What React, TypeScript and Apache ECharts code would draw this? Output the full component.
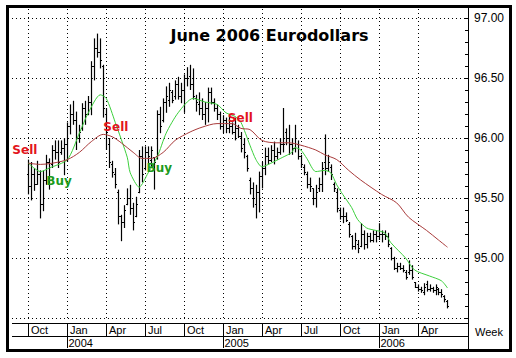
import React, { useEffect, useRef } from 'react';
import * as echarts from 'echarts';

// ---- data (weekly bars, first bar = week ending Oct 3 2003) ----
const START = Date.UTC(2003, 9, 3);
const DAY = 86400000;
const weekDate = (w: number) => START + w * 7 * DAY;

const highs = [
  95.82, 95.80, 95.75, 95.81, 95.73, 95.73, 95.86, 95.83, 95.94, 95.98,
  95.98, 95.98, 96.00, 96.13, 96.28, 96.31, 96.22, 96.11, 96.29, 96.31,
  96.35, 96.64, 96.83, 96.87, 96.83, 96.61, 96.25, 96.00, 95.81, 95.75,
  95.57, 95.36, 95.44, 95.58, 95.61, 95.46, 95.51, 95.90, 95.93, 95.93,
  95.93, 95.93, 95.84, 96.23, 96.26, 96.33, 96.43, 96.46, 96.40, 96.48,
  96.51, 96.46, 96.53, 96.59, 96.61, 96.58, 96.36, 96.38, 96.33, 96.30,
  96.42, 96.42, 96.33, 96.28, 96.22, 96.19, 96.17, 96.19, 96.13, 96.17,
  96.11, 96.05, 96.00, 95.86, 95.67, 95.63, 95.61, 95.72, 95.80, 95.92,
  95.92, 95.94, 95.97, 95.92, 96.00, 96.25, 96.08, 96.11, 96.00, 96.11,
  95.98, 95.86, 95.78, 95.72, 95.67, 95.58, 95.61, 95.67, 95.80, 96.03,
  95.86, 95.78, 95.63, 95.58, 95.42, 95.42, 95.38, 95.30, 95.19, 95.21,
  95.15, 95.29, 95.23, 95.21, 95.21, 95.23, 95.23, 95.29, 95.23, 95.23,
  95.21, 95.09, 95.01, 94.96, 94.96, 94.94, 94.90, 94.98, 94.94, 94.80,
  94.78, 94.76, 94.79, 94.81, 94.78, 94.76, 94.78, 94.75, 94.74, 94.69,
  94.65,
];
const lows = [
  95.53, 95.48, 95.56, 95.61, 95.33, 95.39, 95.61, 95.57, 95.75, 95.82,
  95.75, 95.86, 95.69, 95.80, 96.03, 96.11, 95.90, 95.96, 96.06, 96.11,
  96.19, 96.19, 96.48, 96.67, 96.58, 96.17, 95.90, 95.75, 95.67, 95.58,
  95.28, 95.14, 95.25, 95.44, 95.36, 95.23, 95.34, 95.54, 95.63, 95.73,
  95.79, 95.76, 95.57, 95.82, 96.04, 96.13, 96.21, 96.26, 96.29, 96.32,
  96.32, 96.29, 96.21, 96.43, 96.40, 96.32, 96.22, 96.19, 96.15, 96.11,
  96.13, 96.28, 96.22, 96.15, 96.07, 96.04, 96.04, 96.04, 96.03, 95.98,
  96.00, 95.88, 95.83, 95.72, 95.53, 95.42, 95.33, 95.38, 95.58, 95.69,
  95.78, 95.80, 95.78, 95.82, 95.86, 95.88, 95.94, 95.86, 95.86, 95.88,
  95.82, 95.75, 95.69, 95.58, 95.55, 95.44, 95.42, 95.55, 95.55, 95.69,
  95.72, 95.65, 95.55, 95.38, 95.32, 95.29, 95.30, 95.17, 95.07, 95.07,
  95.04, 95.09, 95.07, 95.08, 95.13, 95.13, 95.13, 95.15, 95.13, 95.15,
  95.09, 94.98, 94.90, 94.88, 94.90, 94.88, 94.82, 94.86, 94.82, 94.75,
  94.72, 94.71, 94.69, 94.72, 94.72, 94.71, 94.69, 94.69, 94.67, 94.63,
  94.58,
];
const opens = [
  95.70, 95.60, 95.70, 95.62, 95.70, 95.45, 95.65, 95.80, 95.78, 95.90,
  95.88, 95.88, 95.92, 95.95, 96.10, 96.20, 96.15, 96.00, 96.08, 96.25,
  96.20, 96.30, 96.60, 96.75, 96.72, 96.60, 96.20, 95.95, 95.78, 95.70,
  95.55, 95.35, 95.30, 95.45, 95.50, 95.42, 95.35, 95.55, 95.85, 95.75,
  95.88, 95.82, 95.84, 95.85, 96.20, 96.15, 96.30, 96.32, 96.38, 96.35,
  96.45, 96.35, 96.40, 96.50, 96.52, 96.45, 96.33, 96.28, 96.25, 96.20,
  96.25, 96.38, 96.30, 96.25, 96.20, 96.10, 96.15, 96.08, 96.10, 96.05,
  96.08, 96.02, 95.95, 95.85, 95.65, 95.58, 95.45, 95.55, 95.68, 95.75,
  95.85, 95.82, 95.90, 95.85, 95.88, 95.95, 96.05, 96.00, 95.95, 95.92,
  95.95, 95.85, 95.76, 95.70, 95.62, 95.58, 95.50, 95.58, 95.62, 95.80,
  95.75, 95.76, 95.62, 95.55, 95.40, 95.35, 95.35, 95.28, 95.18, 95.10,
  95.12, 95.10, 95.20, 95.12, 95.18, 95.15, 95.20, 95.18, 95.20, 95.20,
  95.18, 95.08, 95.00, 94.92, 94.93, 94.92, 94.88, 94.88, 94.90, 94.80,
  94.76, 94.74, 94.72, 94.78, 94.74, 94.75, 94.73, 94.74, 94.72, 94.68,
  94.64,
];
const closes = [
  95.60, 95.70, 95.62, 95.70, 95.45, 95.65, 95.80, 95.62, 95.90, 95.88,
  95.80, 95.92, 95.95, 96.10, 96.20, 96.15, 96.00, 96.05, 96.25, 96.20,
  96.30, 96.60, 96.75, 96.72, 96.65, 96.25, 96.05, 95.80, 95.72, 95.62,
  95.35, 95.30, 95.40, 95.50, 95.42, 95.30, 95.45, 95.85, 95.70, 95.88,
  95.85, 95.90, 95.80, 96.20, 96.10, 96.30, 96.35, 96.40, 96.32, 96.45,
  96.35, 96.40, 96.50, 96.50, 96.45, 96.35, 96.30, 96.25, 96.20, 96.25,
  96.38, 96.30, 96.25, 96.20, 96.10, 96.15, 96.08, 96.10, 96.05, 96.08,
  96.02, 95.92, 95.88, 95.75, 95.58, 95.50, 95.55, 95.68, 95.75, 95.85,
  95.82, 95.90, 95.85, 95.88, 95.95, 95.95, 96.00, 95.95, 95.92, 96.00,
  95.85, 95.78, 95.72, 95.62, 95.60, 95.50, 95.55, 95.62, 95.75, 95.75,
  95.80, 95.70, 95.58, 95.42, 95.35, 95.35, 95.32, 95.20, 95.10, 95.15,
  95.08, 95.20, 95.12, 95.18, 95.15, 95.20, 95.18, 95.20, 95.20, 95.18,
  95.12, 95.00, 94.92, 94.93, 94.92, 94.90, 94.84, 94.90, 94.84, 94.76,
  94.74, 94.73, 94.76, 94.74, 94.75, 94.73, 94.76, 94.72, 94.70, 94.66,
  94.60,
];

// short moving average (green), read at sampled weeks
const greenWeeks = [0, 4, 7, 13, 17, 20, 24, 26, 29, 33, 34, 37, 40, 43, 46, 50, 55, 59, 63, 66, 69, 71, 74, 76, 78, 81, 85, 88, 89, 91, 93, 96, 99, 101, 103, 105, 108, 110, 113, 116, 119, 121, 126, 129, 134, 138, 140];
const greenValues = [95.79, 95.72, 95.75, 95.82, 96.04, 96.21, 96.36, 96.33, 96.13, 95.84, 95.71, 95.59, 95.71, 95.84, 96.04, 96.21, 96.33, 96.30, 96.28, 96.21, 96.18, 96.13, 95.94, 95.82, 95.76, 95.79, 95.84, 95.88, 95.92, 95.90, 95.83, 95.72, 95.73, 95.71, 95.61, 95.53, 95.42, 95.32, 95.25, 95.23, 95.21, 95.13, 95.00, 94.90, 94.85, 94.81, 94.75];
// long moving average (red)
const redWeeks = [0, 4, 8, 13, 17, 21, 25, 28, 31, 35, 38, 41, 45, 49, 54, 58, 63, 68, 71, 74, 78, 83, 87, 91, 96, 99, 103, 107, 111, 118, 123, 127, 133, 137, 140];
const redValues = [95.79, 95.78, 95.79, 95.82, 95.88, 95.97, 96.03, 96.01, 95.96, 95.88, 95.83, 95.83, 95.88, 95.98, 96.05, 96.09, 96.12, 96.12, 96.08, 96.07, 95.98, 95.96, 95.96, 95.94, 95.90, 95.86, 95.82, 95.73, 95.65, 95.53, 95.46, 95.34, 95.23, 95.15, 95.09];

// signals
const signalLabels = ['Sell', 'Buy', 'Sell', 'Buy', 'Sell'];
const signalWeeks = [-1.2, 10.2, 29.2, 43.7, 70.8];
const signalPrices = [95.90, 95.64, 96.09, 95.75, 96.17];

// x axis quarters
const quarterStarts = [
  Date.UTC(2003, 9, 1), Date.UTC(2004, 0, 1), Date.UTC(2004, 3, 1), Date.UTC(2004, 6, 1),
  Date.UTC(2004, 9, 1), Date.UTC(2005, 0, 1), Date.UTC(2005, 3, 1), Date.UTC(2005, 6, 1),
  Date.UTC(2005, 9, 1), Date.UTC(2006, 0, 1), Date.UTC(2006, 3, 1),
];
const quarterMonths = ['Oct', 'Jan', 'Apr', 'Jul', 'Oct', 'Jan', 'Apr', 'Jul', 'Oct', 'Jan', 'Apr'];
const quarterYears = ['', '2004', '', '', '', '2005', '', '', '', '2006', ''];

const X_MIN = Date.UTC(2003, 7, 25, 12);
const X_MAX = Date.UTC(2006, 6, 27);

const SANS = '"Liberation Sans", Arial, sans-serif';
const BOLD = '"DejaVu Sans", Verdana, sans-serif';

export default function App() {
  const ref = useRef<HTMLDivElement>(null);
  useEffect(() => {
    const chart = echarts.init(ref.current!, null, { renderer: 'svg' });
    const ohlc = highs.map((h, i) => [weekDate(i), opens[i], h, lows[i], closes[i]]);
    const green = greenWeeks.map((w, i) => [weekDate(w), greenValues[i]]);
    const red = redWeeks.map((w, i) => [weekDate(w), redValues[i]]);
    const signals = signalWeeks.map((w, i) => [weekDate(w), signalPrices[i]]);

    const option: any = {
      animation: false,
      backgroundColor: '#ffffff',
      grid: { left: 12, right: 48, top: 18, bottom: 40 },
      xAxis: {
        type: 'time', min: X_MIN, max: X_MAX, show: false,
      },
      yAxis: {
        type: 'value', position: 'right', min: 94.5, max: 97, interval: 0.5,
        axisLine: { show: false },
        axisTick: { show: true, inside: true, length: 4, lineStyle: { color: '#000' } },
        minorTick: { show: true, splitNumber: 5, length: 3, lineStyle: { color: '#000' } },
        splitLine: { show: true, lineStyle: { color: '#000', width: 1, type: [1, 3] } },
        axisLabel: {
          showMinLabel: false, color: '#000', fontFamily: SANS, fontSize: 12, margin: 6,
          formatter: (v: number) => v.toFixed(2),
        },
      },
      series: [
        {
          type: 'custom', z: 1, clip: false, silent: true,
          data: quarterStarts.map((t) => [t, 95]),
          encode: { x: 0, y: 1 },
          renderItem: (params: any, api: any) => {
            const i = params.dataIndex;
            const cs = params.coordSys;
            const x = Math.round(api.coord([api.value(0), 95])[0]) + 0.5;
            const top = cs.y;
            const bottom = cs.y + cs.height;
            const children: any[] = [
              { type: 'line', shape: { x1: x, y1: top - 9, x2: x, y2: bottom }, style: { stroke: '#000', lineWidth: 1, lineDash: [1, 3] } },
              { type: 'line', shape: { x1: x, y1: bottom + 5, x2: x, y2: quarterYears[i] ? bottom + 30 : bottom + 18 }, style: { stroke: '#000', lineWidth: 1 } },
              { type: 'text', x: x + 2.5, y: bottom + 12, style: { text: quarterMonths[i], fill: '#000', font: `11px ${SANS}`, align: 'left', verticalAlign: 'middle', textAlign: 'left', textVerticalAlign: 'middle' } },
            ];
            if (quarterYears[i]) {
              children.push({ type: 'text', x: x + 1, y: bottom + 24.5, style: { text: quarterYears[i], fill: '#000', font: `11px ${SANS}`, align: 'left', verticalAlign: 'middle', textAlign: 'left', textVerticalAlign: 'middle' } });
            }
            return { type: 'group', children };
          },
        },
        {
          type: 'custom', name: 'June 2006 Eurodollars', z: 3,
          data: ohlc,
          encode: { x: 0, y: [1, 2, 3, 4] },
          renderItem: (params: any, api: any) => {
            const t = api.value(0);
            const pH = api.coord([t, api.value(2)]);
            const pL = api.coord([t, api.value(3)]);
            const pO = api.coord([t, api.value(1)]);
            const pC = api.coord([t, api.value(4)]);
            const x = Math.round(pH[0]) + 0.5;
            const yO = Math.round(pO[1]) + 0.5;
            const yC = Math.round(pC[1]) + 0.5;
            return {
              type: 'group',
              children: [
                { type: 'line', shape: { x1: x, y1: pH[1], x2: x, y2: pL[1] }, style: { stroke: '#000', lineWidth: 1.2 } },
                { type: 'line', shape: { x1: x - 1.5, y1: yO, x2: x, y2: yO }, style: { stroke: '#000', lineWidth: 1 } },
                { type: 'line', shape: { x1: x, y1: yC, x2: x + 1.5, y2: yC }, style: { stroke: '#000', lineWidth: 1 } },
              ],
            };
          },
        },
        {
          type: 'line', z: 4, data: green, symbol: 'none', smooth: 0.25,
          lineStyle: { color: '#3ccf3c', width: 1 },
        },
        {
          type: 'line', z: 4, data: red, symbol: 'none', smooth: 0.3,
          lineStyle: { color: '#a83a3a', width: 1 },
        },
        {
          type: 'custom', z: 5, clip: false, silent: true,
          data: signals, encode: { x: 0, y: 1 },
          renderItem: (params: any, api: any) => {
            const i = params.dataIndex;
            const p = api.coord([api.value(0), api.value(1)]);
            const isSell = signalLabels[i] === 'Sell';
            return {
              type: 'text', x: p[0], y: p[1],
              style: {
                text: signalLabels[i], fill: isSell ? '#e2141c' : '#1c9a1c',
                font: `bold 12px ${BOLD}`,
                align: 'center', verticalAlign: 'middle', textAlign: 'center', textVerticalAlign: 'middle',
              },
            };
          },
        },
      ],
      graphic: [
        { type: 'line', shape: { x1: 468.5, y1: 8, x2: 468.5, y2: 349 }, style: { stroke: '#000', lineWidth: 1 } },
        { type: 'line', shape: { x1: 12, y1: 323.5, x2: 468, y2: 323.5 }, style: { stroke: '#000', lineWidth: 1 } },
        { type: 'line', shape: { x1: 12, y1: 336.5, x2: 468, y2: 336.5 }, style: { stroke: '#000', lineWidth: 1 } },
        { type: 'text', x: 475, y: 331.5, style: { text: 'Week', fill: '#000', font: `11px ${SANS}`, align: 'left', verticalAlign: 'middle', textAlign: 'left', textVerticalAlign: 'middle' } },
        { type: 'text', x: 269.5, y: 35, style: { text: 'June 2006 Eurodollars', fill: '#000', font: `bold 16px ${BOLD}`, align: 'center', verticalAlign: 'middle', textAlign: 'center', textVerticalAlign: 'middle' } },
        { type: 'rect', shape: { x: 7.5, y: 6.5, width: 503, height: 344 }, style: { fill: 'none', stroke: '#000', lineWidth: 3 }, z: 100 },
      ],
    };
    chart.setOption(option);
    return () => chart.dispose();
  }, []);
  return (
    <div
      ref={ref}
      style={{ position: 'fixed', left: 0, top: 0, width: 516, height: 358, background: '#fff' }}
    />
  );
}
